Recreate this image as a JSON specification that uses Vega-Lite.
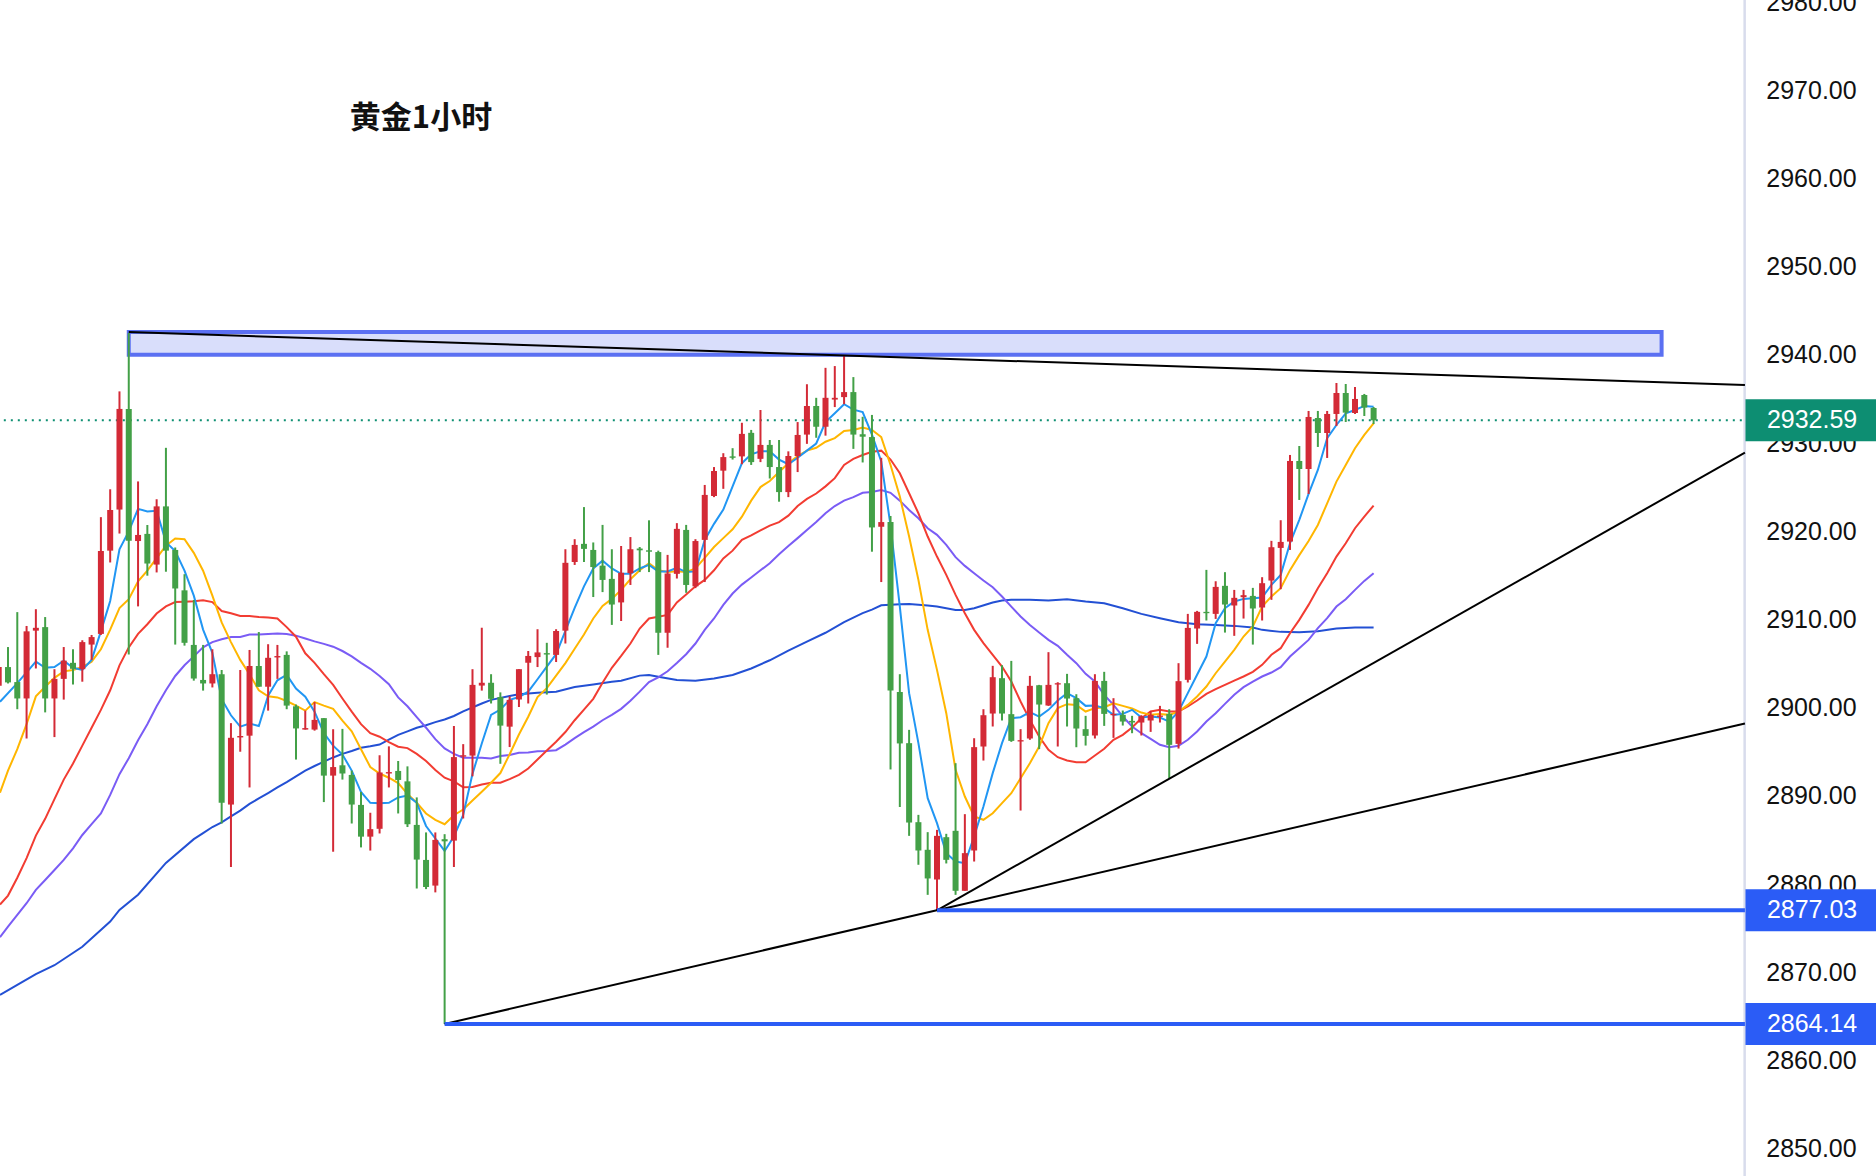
{
  "$schema": "https://vega.github.io/schema/vega-lite/v6.json",
  "description": "gold 1 hour candlesticks with five moving averages, trend lines and a resistance box",
  "width": 1876,
  "height": 1176,
  "padding": 0,
  "autosize": "none",
  "background": "#ffffff",
  "config": {"view": {"stroke": null}},
  "datasets": {
    "candles": [
      {"i":-1,"o":2902.5,"h":2905.5,"l":2900.5,"c":2904.61},
      {"i":0,"o":2904.61,"h":2906.88,"l":2902.75,"c":2902.87},
      {"i":1,"o":2902.91,"h":2910.84,"l":2899.83,"c":2901.05},
      {"i":2,"o":2901.05,"h":2909.27,"l":2896.51,"c":2908.66},
      {"i":3,"o":2908.74,"h":2911.17,"l":2904.45,"c":2909.06},
      {"i":4,"o":2909.14,"h":2910.28,"l":2899.47,"c":2901.05},
      {"i":5,"o":2901.05,"h":2904.37,"l":2896.67,"c":2903.27},
      {"i":6,"o":2903.27,"h":2906.88,"l":2900.92,"c":2905.34},
      {"i":7,"o":2905.09,"h":2906.63,"l":2902.63,"c":2904.41},
      {"i":8,"o":2904.37,"h":2907.65,"l":2902.95,"c":2907.44},
      {"i":9,"o":2907.16,"h":2908.25,"l":2905.42,"c":2908.01},
      {"i":10,"o":2908.37,"h":2921.61,"l":2908.25,"c":2917.77},
      {"i":11,"o":2917.81,"h":2924.77,"l":2916.47,"c":2922.42},
      {"i":12,"o":2922.47,"h":2935.87,"l":2919.75,"c":2933.88},
      {"i":13,"o":2933.88,"h":2942.5,"l":2906.03,"c":2918.94},
      {"i":14,"o":2918.9,"h":2925.66,"l":2911.49,"c":2919.59},
      {"i":15,"o":2919.71,"h":2920.72,"l":2914.97,"c":2916.35},
      {"i":16,"o":2916.23,"h":2923.64,"l":2915.34,"c":2922.83},
      {"i":17,"o":2922.83,"h":2929.47,"l":2915.42,"c":2917.81},
      {"i":18,"o":2917.89,"h":2918.17,"l":2907.16,"c":2913.52},
      {"i":19,"o":2913.31,"h":2915.14,"l":2907.04,"c":2907.36},
      {"i":20,"o":2907.12,"h":2912.22,"l":2903.07,"c":2903.31},
      {"i":21,"o":2903.15,"h":2907.12,"l":2901.94,"c":2902.75},
      {"i":22,"o":2902.75,"h":2906.63,"l":2902.3,"c":2903.8},
      {"i":23,"o":2903.8,"h":2904.28,"l":2886.87,"c":2889.22},
      {"i":24,"o":2889.02,"h":2898.25,"l":2881.94,"c":2896.59},
      {"i":25,"o":2896.63,"h":2904.28,"l":2895.01,"c":2896.79},
      {"i":26,"o":2896.83,"h":2906.55,"l":2890.96,"c":2904.73},
      {"i":27,"o":2904.73,"h":2908.58,"l":2902.38,"c":2902.38},
      {"i":28,"o":2902.38,"h":2907.2,"l":2899.67,"c":2905.66},
      {"i":29,"o":2905.7,"h":2907.12,"l":2903.27,"c":2905.86},
      {"i":30,"o":2905.99,"h":2906.39,"l":2899.83,"c":2900.24},
      {"i":31,"o":2900.16,"h":2900.36,"l":2894.12,"c":2897.65},
      {"i":32,"o":2897.52,"h":2899.67,"l":2897.52,"c":2897.69},
      {"i":33,"o":2897.52,"h":2900.64,"l":2897.4,"c":2898.62},
      {"i":34,"o":2898.82,"h":2898.82,"l":2889.3,"c":2892.3},
      {"i":35,"o":2892.3,"h":2897.56,"l":2883.67,"c":2893.27},
      {"i":36,"o":2893.47,"h":2897.6,"l":2891.85,"c":2892.54},
      {"i":37,"o":2892.38,"h":2892.87,"l":2886.87,"c":2889.02},
      {"i":38,"o":2888.98,"h":2890.44,"l":2884.16,"c":2885.38},
      {"i":39,"o":2885.38,"h":2888.09,"l":2883.8,"c":2886.23},
      {"i":40,"o":2886.27,"h":2894.61,"l":2885.74,"c":2892.66},
      {"i":41,"o":2892.54,"h":2895.62,"l":2890.96,"c":2892.7},
      {"i":42,"o":2892.83,"h":2893.96,"l":2888.01,"c":2891.81},
      {"i":43,"o":2891.65,"h":2893.35,"l":2886.47,"c":2886.79},
      {"i":44,"o":2886.71,"h":2889.83,"l":2879.5,"c":2882.78},
      {"i":45,"o":2882.74,"h":2885.86,"l":2879.43,"c":2879.67},
      {"i":46,"o":2879.83,"h":2885.86,"l":2879.06,"c":2885.01},
      {"i":47,"o":2885.09,"h":2885.66,"l":2864.14,"c":2884.85},
      {"i":48,"o":2884.93,"h":2897.93,"l":2881.94,"c":2894.4},
      {"i":49,"o":2894.45,"h":2895.87,"l":2887.44,"c":2894.61},
      {"i":50,"o":2894.57,"h":2904.37,"l":2892.22,"c":2902.59},
      {"i":51,"o":2902.51,"h":2909.07,"l":2901.94,"c":2902.83},
      {"i":52,"o":2902.83,"h":2903.8,"l":2900.48,"c":2901.01},
      {"i":53,"o":2901.21,"h":2901.74,"l":2893.64,"c":2897.97},
      {"i":54,"o":2897.85,"h":2901.29,"l":2895.54,"c":2900.89},
      {"i":55,"o":2900.93,"h":2904.37,"l":2900.08,"c":2904.37},
      {"i":56,"o":2905.1,"h":2906.43,"l":2900.48,"c":2905.87},
      {"i":57,"o":2905.74,"h":2908.9,"l":2904.61,"c":2906.27},
      {"i":58,"o":2906.19,"h":2907.36,"l":2901.49,"c":2906.03},
      {"i":59,"o":2905.99,"h":2908.9,"l":2905.18,"c":2908.7},
      {"i":60,"o":2908.74,"h":2917.97,"l":2907.28,"c":2916.43},
      {"i":61,"o":2916.52,"h":2919.11,"l":2916.19,"c":2918.46},
      {"i":62,"o":2918.58,"h":2922.75,"l":2916.52,"c":2918.01},
      {"i":63,"o":2917.89,"h":2918.74,"l":2912.55,"c":2915.95},
      {"i":64,"o":2916.11,"h":2920.73,"l":2913.11,"c":2914.49},
      {"i":65,"o":2914.61,"h":2917.97,"l":2909.39,"c":2911.7},
      {"i":66,"o":2911.94,"h":2918.34,"l":2909.83,"c":2915.3},
      {"i":67,"o":2915.26,"h":2919.35,"l":2913.92,"c":2917.97},
      {"i":68,"o":2918.05,"h":2918.22,"l":2915.38,"c":2917.85},
      {"i":69,"o":2917.85,"h":2921.25,"l":2915.38,"c":2917.69},
      {"i":70,"o":2917.65,"h":2917.81,"l":2905.99,"c":2908.5},
      {"i":71,"o":2908.5,"h":2917.33,"l":2906.8,"c":2915.22},
      {"i":72,"o":2915.18,"h":2920.93,"l":2914.65,"c":2920.28},
      {"i":73,"o":2920.16,"h":2920.73,"l":2913.03,"c":2913.92},
      {"i":74,"o":2913.76,"h":2919.11,"l":2913.56,"c":2918.9},
      {"i":75,"o":2919.03,"h":2925.26,"l":2914.25,"c":2924.13},
      {"i":76,"o":2924.01,"h":2927.29,"l":2923.88,"c":2926.84},
      {"i":77,"o":2926.88,"h":2928.86,"l":2924.82,"c":2928.42},
      {"i":78,"o":2928.5,"h":2929.43,"l":2928.14,"c":2928.34},
      {"i":79,"o":2928.5,"h":2932.31,"l":2927.61,"c":2931.05},
      {"i":80,"o":2931.17,"h":2931.5,"l":2927.53,"c":2927.85},
      {"i":81,"o":2928.22,"h":2933.76,"l":2927.85,"c":2929.8},
      {"i":82,"o":2929.8,"h":2930.36,"l":2925.99,"c":2927.29},
      {"i":83,"o":2927.29,"h":2930.36,"l":2923.36,"c":2924.45},
      {"i":84,"o":2924.45,"h":2929.07,"l":2923.88,"c":2928.54},
      {"i":85,"o":2928.54,"h":2932.39,"l":2926.72,"c":2930.93},
      {"i":86,"o":2930.97,"h":2936.68,"l":2929.92,"c":2934.21},
      {"i":87,"o":2934.21,"h":2935.14,"l":2930.61,"c":2931.86},
      {"i":88,"o":2931.86,"h":2938.54,"l":2930.85,"c":2935.14},
      {"i":89,"o":2934.94,"h":2938.74,"l":2934.09,"c":2935.14},
      {"i":90,"o":2935.22,"h":2940,"l":2934.41,"c":2935.79},
      {"i":91,"o":2935.79,"h":2937.49,"l":2929.35,"c":2930.97},
      {"i":92,"o":2931.01,"h":2932.99,"l":2927.81,"c":2930.73},
      {"i":93,"o":2930.69,"h":2933.2,"l":2917.69,"c":2920.44},
      {"i":94,"o":2920.52,"h":2928.34,"l":2914.25,"c":2921.05},
      {"i":95,"o":2921.05,"h":2921.74,"l":2893,"c":2901.94},
      {"i":96,"o":2901.78,"h":2903.8,"l":2888.74,"c":2895.95},
      {"i":97,"o":2895.98,"h":2897.49,"l":2885.47,"c":2886.98},
      {"i":98,"o":2887.02,"h":2887.85,"l":2882.19,"c":2883.81},
      {"i":99,"o":2883.89,"h":2885.89,"l":2878.78,"c":2880.64},
      {"i":100,"o":2880.52,"h":2886.15,"l":2877.03,"c":2885.47},
      {"i":101,"o":2885.32,"h":2885.7,"l":2882.34,"c":2882.75},
      {"i":102,"o":2886.04,"h":2893.71,"l":2878.78,"c":2879.24},
      {"i":103,"o":2879.24,"h":2887.93,"l":2879.24,"c":2883.51},
      {"i":104,"o":2883.81,"h":2896.54,"l":2882.56,"c":2895.53},
      {"i":105,"o":2895.6,"h":2899.83,"l":2894.01,"c":2899.15},
      {"i":106,"o":2899.34,"h":2904.75,"l":2897.87,"c":2903.46},
      {"i":107,"o":2903.35,"h":2904.82,"l":2898.55,"c":2899.34},
      {"i":108,"o":2899.27,"h":2905.31,"l":2896.13,"c":2896.24},
      {"i":109,"o":2896.17,"h":2897.57,"l":2888.34,"c":2896.32},
      {"i":110,"o":2896.51,"h":2903.61,"l":2896.36,"c":2902.48},
      {"i":111,"o":2902.55,"h":2902.59,"l":2895.3,"c":2900.36},
      {"i":112,"o":2900.25,"h":2906.3,"l":2900.21,"c":2902.59},
      {"i":113,"o":2902.63,"h":2902.89,"l":2895.6,"c":2902.78},
      {"i":114,"o":2902.78,"h":2903.84,"l":2897.87,"c":2901.04},
      {"i":115,"o":2901.08,"h":2901.53,"l":2895.52,"c":2897.64},
      {"i":116,"o":2897.57,"h":2899.08,"l":2895.71,"c":2896.81},
      {"i":117,"o":2896.85,"h":2903.8,"l":2896.51,"c":2903.04},
      {"i":118,"o":2903.04,"h":2904.07,"l":2897.94,"c":2899.3},
      {"i":119,"o":2899.15,"h":2901.08,"l":2896.58,"c":2899.3},
      {"i":120,"o":2899.19,"h":2899.68,"l":2897.98,"c":2898.43},
      {"i":121,"o":2898.51,"h":2899.08,"l":2897.11,"c":2898.32},
      {"i":122,"o":2898.32,"h":2899.15,"l":2896.85,"c":2899.04},
      {"i":123,"o":2898.55,"h":2899.64,"l":2897.26,"c":2899.19},
      {"i":124,"o":2898.96,"h":2900.21,"l":2898.32,"c":2899.11},
      {"i":125,"o":2899.3,"h":2899.83,"l":2891.94,"c":2895.79},
      {"i":126,"o":2895.9,"h":2905.05,"l":2895.37,"c":2903.01},
      {"i":127,"o":2903.16,"h":2910.64,"l":2902.86,"c":2909.05},
      {"i":128,"o":2908.98,"h":2910.98,"l":2907.24,"c":2910.87},
      {"i":129,"o":2910.87,"h":2915.63,"l":2909.89,"c":2910.72},
      {"i":130,"o":2910.64,"h":2914.34,"l":2910.07,"c":2913.7},
      {"i":131,"o":2913.82,"h":2915.37,"l":2908.52,"c":2911.7},
      {"i":132,"o":2911.59,"h":2913.36,"l":2908.15,"c":2912.46},
      {"i":133,"o":2912.53,"h":2913.36,"l":2910.11,"c":2912.76},
      {"i":134,"o":2912.68,"h":2913.59,"l":2907.16,"c":2911.25},
      {"i":135,"o":2911.36,"h":2914.8,"l":2909.89,"c":2914.12},
      {"i":136,"o":2914.42,"h":2918.92,"l":2912.23,"c":2918.2},
      {"i":137,"o":2918.12,"h":2921.26,"l":2913.44,"c":2918.8},
      {"i":138,"o":2918.84,"h":2928.66,"l":2917.89,"c":2927.98},
      {"i":139,"o":2927.98,"h":2929.68,"l":2923.56,"c":2927.07},
      {"i":140,"o":2927.07,"h":2933.65,"l":2924.24,"c":2932.97},
      {"i":141,"o":2932.85,"h":2933.65,"l":2929.57,"c":2931.15},
      {"i":142,"o":2931.15,"h":2933.65,"l":2928.32,"c":2933.31},
      {"i":143,"o":2933.31,"h":2936.82,"l":2931.95,"c":2935.69},
      {"i":144,"o":2935.69,"h":2936.71,"l":2932.4,"c":2933.46},
      {"i":145,"o":2933.42,"h":2936.37,"l":2933.31,"c":2935.01},
      {"i":146,"o":2935.46,"h":2935.58,"l":2933.08,"c":2934.03},
      {"i":147,"o":2933.99,"h":2934.1,"l":2932.17,"c":2932.59}
    ],
    "averages": [
      {"s":"slow","i":-0.86,"v":2867.43},{"s":"slow","i":1,"v":2868.57},{"s":"slow","i":3,"v":2869.8},{"s":"slow","i":5,"v":2870.8},{"s":"slow","i":8,"v":2872.9},{"s":"slow","i":11,"v":2875.75},{"s":"slow","i":12,"v":2877.07},{"s":"slow","i":14,"v":2878.8},{"s":"slow","i":17,"v":2882.4},{"s":"slow","i":20,"v":2885.1},{"s":"slow","i":21,"v":2885.78},{"s":"slow","i":22,"v":2886.47},{"s":"slow","i":23,"v":2887},{"s":"slow","i":24,"v":2887.68},{"s":"slow","i":25,"v":2888.33},{"s":"slow","i":26,"v":2889.1},{"s":"slow","i":27,"v":2889.71},{"s":"slow","i":28,"v":2890.32},{"s":"slow","i":29,"v":2890.96},{"s":"slow","i":30,"v":2891.57},{"s":"slow","i":31,"v":2892.22},{"s":"slow","i":32,"v":2892.87},{"s":"slow","i":33,"v":2893.39},{"s":"slow","i":34,"v":2893.88},{"s":"slow","i":35,"v":2894.36},{"s":"slow","i":36,"v":2894.77},{"s":"slow","i":37,"v":2895.09},{"s":"slow","i":38,"v":2895.46},{"s":"slow","i":39,"v":2895.62},{"s":"slow","i":40,"v":2895.82},{"s":"slow","i":41,"v":2896.39},{"s":"slow","i":42,"v":2896.92},{"s":"slow","i":43,"v":2897.32},{"s":"slow","i":44,"v":2897.73},{"s":"slow","i":45,"v":2898.01},{"s":"slow","i":46,"v":2898.37},{"s":"slow","i":47,"v":2898.66},{"s":"slow","i":48,"v":2899.06},{"s":"slow","i":49,"v":2899.59},{"s":"slow","i":51,"v":2900.48},{"s":"slow","i":52,"v":2900.89},{"s":"slow","i":54,"v":2901.33},{"s":"slow","i":55,"v":2901.53},{"s":"slow","i":57,"v":2901.7},{"s":"slow","i":59,"v":2901.82},{"s":"slow","i":61,"v":2902.34},{"s":"slow","i":63,"v":2902.63},{"s":"slow","i":65,"v":2902.95},{"s":"slow","i":66,"v":2903.07},{"s":"slow","i":68,"v":2903.64},{"s":"slow","i":69,"v":2903.72},{"s":"slow","i":70,"v":2903.52},{"s":"slow","i":72,"v":2903.15},{"s":"slow","i":74,"v":2903.07},{"s":"slow","i":76,"v":2903.32},{"s":"slow","i":78,"v":2903.72},{"s":"slow","i":80,"v":2904.45},{"s":"slow","i":82,"v":2905.38},{"s":"slow","i":84,"v":2906.47},{"s":"slow","i":86,"v":2907.49},{"s":"slow","i":88,"v":2908.5},{"s":"slow","i":90,"v":2909.71},{"s":"slow","i":92,"v":2910.72},{"s":"slow","i":93,"v":2911.13},{"s":"slow","i":94,"v":2911.62},{"s":"slow","i":96,"v":2911.74},{"s":"slow","i":97,"v":2911.77},{"s":"slow","i":99,"v":2911.59},{"s":"slow","i":100,"v":2911.47},{"s":"slow","i":102,"v":2911.09},{"s":"slow","i":103,"v":2911.09},{"s":"slow","i":104,"v":2911.28},{"s":"slow","i":106,"v":2911.93},{"s":"slow","i":107,"v":2912.15},{"s":"slow","i":108,"v":2912.23},{"s":"slow","i":110,"v":2912.23},{"s":"slow","i":112,"v":2912.15},{"s":"slow","i":114,"v":2912.3},{"s":"slow","i":116,"v":2912.04},{"s":"slow","i":118,"v":2911.85},{"s":"slow","i":120,"v":2911.28},{"s":"slow","i":122,"v":2910.64},{"s":"slow","i":124,"v":2910.15},{"s":"slow","i":126,"v":2909.7},{"s":"slow","i":128,"v":2909.47},{"s":"slow","i":130,"v":2909.39},{"s":"slow","i":132,"v":2909.28},{"s":"slow","i":134,"v":2909.09},{"s":"slow","i":135,"v":2908.83},{"s":"slow","i":137,"v":2908.6},{"s":"slow","i":139,"v":2908.56},{"s":"slow","i":141,"v":2908.68},{"s":"slow","i":143,"v":2908.98},{"s":"slow","i":144,"v":2909.05},{"s":"slow","i":145,"v":2909.09},{"s":"slow","i":147,"v":2909.09},
      {"s":"long","i":-0.86,"v":2873.97},{"s":"long","i":0,"v":2875.18},{"s":"long","i":1,"v":2876.5},{"s":"long","i":2,"v":2877.83},{"s":"long","i":3,"v":2879.34},{"s":"long","i":4,"v":2880.47},{"s":"long","i":5,"v":2881.6},{"s":"long","i":6,"v":2882.74},{"s":"long","i":7,"v":2884.06},{"s":"long","i":8,"v":2885.57},{"s":"long","i":9,"v":2886.79},{"s":"long","i":10,"v":2888.01},{"s":"long","i":11,"v":2890.11},{"s":"long","i":12,"v":2892.46},{"s":"long","i":13,"v":2894.28},{"s":"long","i":14,"v":2896.31},{"s":"long","i":15,"v":2898.13},{"s":"long","i":16,"v":2900.16},{"s":"long","i":17,"v":2901.98},{"s":"long","i":18,"v":2903.6},{"s":"long","i":19,"v":2904.81},{"s":"long","i":20,"v":2905.82},{"s":"long","i":21,"v":2906.84},{"s":"long","i":22,"v":2907.44},{"s":"long","i":23,"v":2907.77},{"s":"long","i":24,"v":2908.01},{"s":"long","i":25,"v":2908.01},{"s":"long","i":26,"v":2908.29},{"s":"long","i":27,"v":2908.29},{"s":"long","i":28,"v":2908.37},{"s":"long","i":29,"v":2908.41},{"s":"long","i":30,"v":2908.37},{"s":"long","i":31,"v":2908.17},{"s":"long","i":32,"v":2907.85},{"s":"long","i":33,"v":2907.52},{"s":"long","i":34,"v":2907.24},{"s":"long","i":35,"v":2906.92},{"s":"long","i":36,"v":2906.43},{"s":"long","i":37,"v":2905.82},{"s":"long","i":38,"v":2905.09},{"s":"long","i":39,"v":2904.41},{"s":"long","i":40,"v":2903.6},{"s":"long","i":41,"v":2902.67},{"s":"long","i":42,"v":2901.17},{"s":"long","i":43,"v":2900.16},{"s":"long","i":44,"v":2898.94},{"s":"long","i":45,"v":2897.73},{"s":"long","i":46,"v":2896.43},{"s":"long","i":47,"v":2895.38},{"s":"long","i":48,"v":2894.77},{"s":"long","i":49,"v":2894.33},{"s":"long","i":50,"v":2894.33},{"s":"long","i":51,"v":2894.33},{"s":"long","i":52,"v":2894.25},{"s":"long","i":53,"v":2894.53},{"s":"long","i":54,"v":2894.65},{"s":"long","i":55,"v":2894.89},{"s":"long","i":56,"v":2894.93},{"s":"long","i":57,"v":2895.05},{"s":"long","i":58,"v":2895.1},{"s":"long","i":59,"v":2895.18},{"s":"long","i":60,"v":2895.82},{"s":"long","i":61,"v":2896.55},{"s":"long","i":62,"v":2897.24},{"s":"long","i":63,"v":2897.85},{"s":"long","i":64,"v":2898.58},{"s":"long","i":65,"v":2899.19},{"s":"long","i":66,"v":2899.87},{"s":"long","i":67,"v":2900.8},{"s":"long","i":68,"v":2901.82},{"s":"long","i":69,"v":2902.91},{"s":"long","i":70,"v":2903.44},{"s":"long","i":71,"v":2904.13},{"s":"long","i":72,"v":2905.06},{"s":"long","i":73,"v":2906.07},{"s":"long","i":74,"v":2907.28},{"s":"long","i":75,"v":2908.82},{"s":"long","i":76,"v":2910.12},{"s":"long","i":77,"v":2911.66},{"s":"long","i":78,"v":2912.95},{"s":"long","i":79,"v":2913.96},{"s":"long","i":80,"v":2914.77},{"s":"long","i":81,"v":2915.58},{"s":"long","i":82,"v":2916.39},{"s":"long","i":83,"v":2917.41},{"s":"long","i":84,"v":2918.34},{"s":"long","i":85,"v":2919.23},{"s":"long","i":86,"v":2920.16},{"s":"long","i":87,"v":2921.05},{"s":"long","i":88,"v":2922.06},{"s":"long","i":89,"v":2922.87},{"s":"long","i":90,"v":2923.48},{"s":"long","i":91,"v":2923.88},{"s":"long","i":92,"v":2924.37},{"s":"long","i":93,"v":2924.45},{"s":"long","i":94,"v":2924.69},{"s":"long","i":95,"v":2924.37},{"s":"long","i":96,"v":2923.48},{"s":"long","i":97,"v":2922.43},{"s":"long","i":98,"v":2921.49},{"s":"long","i":99,"v":2920.35},{"s":"long","i":100,"v":2919.6},{"s":"long","i":101,"v":2918.46},{"s":"long","i":102,"v":2917.07},{"s":"long","i":103,"v":2916.08},{"s":"long","i":104,"v":2915.25},{"s":"long","i":105,"v":2914.42},{"s":"long","i":106,"v":2913.66},{"s":"long","i":107,"v":2912.61},{"s":"long","i":108,"v":2911.47},{"s":"long","i":109,"v":2910.34},{"s":"long","i":110,"v":2909.39},{"s":"long","i":111,"v":2908.52},{"s":"long","i":112,"v":2907.69},{"s":"long","i":113,"v":2907.01},{"s":"long","i":114,"v":2906},{"s":"long","i":115,"v":2905.05},{"s":"long","i":116,"v":2903.84},{"s":"long","i":117,"v":2902.97},{"s":"long","i":118,"v":2901.46},{"s":"long","i":119,"v":2900.32},{"s":"long","i":120,"v":2899},{"s":"long","i":121,"v":2897.87},{"s":"long","i":122,"v":2897.11},{"s":"long","i":123,"v":2896.47},{"s":"long","i":124,"v":2895.79},{"s":"long","i":125,"v":2895.53},{"s":"long","i":126,"v":2895.68},{"s":"long","i":127,"v":2896.36},{"s":"long","i":128,"v":2897.3},{"s":"long","i":129,"v":2898.43},{"s":"long","i":130,"v":2899.38},{"s":"long","i":131,"v":2900.44},{"s":"long","i":132,"v":2901.46},{"s":"long","i":133,"v":2902.33},{"s":"long","i":134,"v":2902.97},{"s":"long","i":135,"v":2903.54},{"s":"long","i":136,"v":2903.99},{"s":"long","i":137,"v":2904.59},{"s":"long","i":138,"v":2905.8},{"s":"long","i":139,"v":2906.75},{"s":"long","i":140,"v":2907.69},{"s":"long","i":141,"v":2909.02},{"s":"long","i":142,"v":2910.15},{"s":"long","i":143,"v":2911.47},{"s":"long","i":144,"v":2912.3},{"s":"long","i":145,"v":2913.36},{"s":"long","i":146,"v":2914.38},{"s":"long","i":147,"v":2915.25},
      {"s":"mid","i":-0.86,"v":2877.68},{"s":"mid","i":0,"v":2878.7},{"s":"mid","i":1,"v":2880.72},{"s":"mid","i":2,"v":2882.95},{"s":"mid","i":3,"v":2885.5},{"s":"mid","i":4,"v":2887.4},{"s":"mid","i":5,"v":2889.63},{"s":"mid","i":6,"v":2891.85},{"s":"mid","i":7,"v":2893.68},{"s":"mid","i":8,"v":2895.7},{"s":"mid","i":9,"v":2897.73},{"s":"mid","i":10,"v":2899.75},{"s":"mid","i":11,"v":2901.98},{"s":"mid","i":12,"v":2904.81},{"s":"mid","i":13,"v":2906.84},{"s":"mid","i":14,"v":2908.37},{"s":"mid","i":15,"v":2909.47},{"s":"mid","i":16,"v":2910.68},{"s":"mid","i":17,"v":2911.49},{"s":"mid","i":18,"v":2911.98},{"s":"mid","i":19,"v":2912.02},{"s":"mid","i":20,"v":2912.06},{"s":"mid","i":21,"v":2912.18},{"s":"mid","i":22,"v":2911.98},{"s":"mid","i":23,"v":2910.97},{"s":"mid","i":24,"v":2910.72},{"s":"mid","i":25,"v":2910.4},{"s":"mid","i":26,"v":2910.4},{"s":"mid","i":27,"v":2910.28},{"s":"mid","i":28,"v":2910.24},{"s":"mid","i":29,"v":2910.12},{"s":"mid","i":30,"v":2909.14},{"s":"mid","i":31,"v":2908.05},{"s":"mid","i":32,"v":2906.17},{"s":"mid","i":33,"v":2905.09},{"s":"mid","i":34,"v":2903.8},{"s":"mid","i":35,"v":2902.58},{"s":"mid","i":36,"v":2901.05},{"s":"mid","i":37,"v":2899.55},{"s":"mid","i":38,"v":2898.13},{"s":"mid","i":39,"v":2897.12},{"s":"mid","i":40,"v":2896.71},{"s":"mid","i":41,"v":2896.11},{"s":"mid","i":42,"v":2895.58},{"s":"mid","i":43,"v":2895.42},{"s":"mid","i":44,"v":2894.77},{"s":"mid","i":45,"v":2893.96},{"s":"mid","i":46,"v":2892.95},{"s":"mid","i":47,"v":2892.06},{"s":"mid","i":48,"v":2891.65},{"s":"mid","i":49,"v":2890.97},{"s":"mid","i":50,"v":2891.01},{"s":"mid","i":51,"v":2891.29},{"s":"mid","i":52,"v":2891.49},{"s":"mid","i":53,"v":2891.49},{"s":"mid","i":54,"v":2891.9},{"s":"mid","i":55,"v":2892.38},{"s":"mid","i":56,"v":2893.11},{"s":"mid","i":57,"v":2894.12},{"s":"mid","i":58,"v":2895.14},{"s":"mid","i":59,"v":2896.15},{"s":"mid","i":60,"v":2897.24},{"s":"mid","i":61,"v":2898.58},{"s":"mid","i":62,"v":2899.79},{"s":"mid","i":63,"v":2901.01},{"s":"mid","i":64,"v":2902.83},{"s":"mid","i":65,"v":2904.53},{"s":"mid","i":66,"v":2905.87},{"s":"mid","i":67,"v":2907.28},{"s":"mid","i":68,"v":2908.98},{"s":"mid","i":69,"v":2910.12},{"s":"mid","i":70,"v":2910.32},{"s":"mid","i":71,"v":2910.52},{"s":"mid","i":72,"v":2911.94},{"s":"mid","i":73,"v":2912.83},{"s":"mid","i":74,"v":2913.76},{"s":"mid","i":75,"v":2914.49},{"s":"mid","i":76,"v":2915.58},{"s":"mid","i":77,"v":2916.92},{"s":"mid","i":78,"v":2917.81},{"s":"mid","i":79,"v":2919.03},{"s":"mid","i":80,"v":2919.55},{"s":"mid","i":81,"v":2920.12},{"s":"mid","i":82,"v":2920.65},{"s":"mid","i":83,"v":2921.05},{"s":"mid","i":84,"v":2921.78},{"s":"mid","i":85,"v":2922.87},{"s":"mid","i":86,"v":2923.68},{"s":"mid","i":87,"v":2924.29},{"s":"mid","i":88,"v":2925.1},{"s":"mid","i":89,"v":2926.03},{"s":"mid","i":90,"v":2927.53},{"s":"mid","i":91,"v":2928.22},{"s":"mid","i":92,"v":2928.66},{"s":"mid","i":93,"v":2929.03},{"s":"mid","i":94,"v":2929.15},{"s":"mid","i":95,"v":2928.14},{"s":"mid","i":96,"v":2926.59},{"s":"mid","i":97,"v":2924.32},{"s":"mid","i":98,"v":2922.05},{"s":"mid","i":99,"v":2919.41},{"s":"mid","i":100,"v":2917.14},{"s":"mid","i":101,"v":2915.06},{"s":"mid","i":102,"v":2912.79},{"s":"mid","i":103,"v":2910.72},{"s":"mid","i":104,"v":2908.83},{"s":"mid","i":105,"v":2907.32},{"s":"mid","i":106,"v":2906},{"s":"mid","i":107,"v":2904.67},{"s":"mid","i":108,"v":2902.97},{"s":"mid","i":109,"v":2900.7},{"s":"mid","i":110,"v":2898.62},{"s":"mid","i":111,"v":2896.73},{"s":"mid","i":112,"v":2895.22},{"s":"mid","i":113,"v":2894.39},{"s":"mid","i":114,"v":2894.01},{"s":"mid","i":115,"v":2893.82},{"s":"mid","i":116,"v":2893.82},{"s":"mid","i":117,"v":2894.58},{"s":"mid","i":118,"v":2895.34},{"s":"mid","i":119,"v":2896.36},{"s":"mid","i":120,"v":2896.92},{"s":"mid","i":121,"v":2897.75},{"s":"mid","i":122,"v":2898.81},{"s":"mid","i":123,"v":2899.57},{"s":"mid","i":124,"v":2899.76},{"s":"mid","i":125,"v":2899.57},{"s":"mid","i":126,"v":2899.57},{"s":"mid","i":127,"v":2900.14},{"s":"mid","i":128,"v":2900.82},{"s":"mid","i":129,"v":2901.57},{"s":"mid","i":130,"v":2902.1},{"s":"mid","i":131,"v":2902.59},{"s":"mid","i":132,"v":2903.08},{"s":"mid","i":133,"v":2903.54},{"s":"mid","i":134,"v":2904.07},{"s":"mid","i":135,"v":2904.86},{"s":"mid","i":136,"v":2906},{"s":"mid","i":137,"v":2906.75},{"s":"mid","i":138,"v":2908.45},{"s":"mid","i":139,"v":2909.96},{"s":"mid","i":140,"v":2911.66},{"s":"mid","i":141,"v":2913.55},{"s":"mid","i":142,"v":2915.25},{"s":"mid","i":143,"v":2917.14},{"s":"mid","i":144,"v":2918.65},{"s":"mid","i":145,"v":2920.35},{"s":"mid","i":146,"v":2921.68},{"s":"mid","i":147,"v":2922.92},
      {"s":"short","i":-0.86,"v":2890.36},{"s":"short","i":0,"v":2892.87},{"s":"short","i":1,"v":2895.3},{"s":"short","i":2,"v":2898.13},{"s":"short","i":3,"v":2901.29},{"s":"short","i":4,"v":2902.38},{"s":"short","i":5,"v":2903.39},{"s":"short","i":6,"v":2904.12},{"s":"short","i":7,"v":2904.28},{"s":"short","i":8,"v":2904.61},{"s":"short","i":9,"v":2905.22},{"s":"short","i":10,"v":2906.63},{"s":"short","i":11,"v":2908.86},{"s":"short","i":12,"v":2911.29},{"s":"short","i":13,"v":2912.3},{"s":"short","i":14,"v":2914.33},{"s":"short","i":15,"v":2915.54},{"s":"short","i":16,"v":2916.96},{"s":"short","i":17,"v":2918.37},{"s":"short","i":18,"v":2919.18},{"s":"short","i":19,"v":2919.1},{"s":"short","i":20,"v":2917.56},{"s":"short","i":21,"v":2915.54},{"s":"short","i":22,"v":2912.71},{"s":"short","i":23,"v":2909.67},{"s":"short","i":24,"v":2907.44},{"s":"short","i":25,"v":2905.42},{"s":"short","i":26,"v":2903.8},{"s":"short","i":27,"v":2901.98},{"s":"short","i":28,"v":2901.29},{"s":"short","i":29,"v":2901.17},{"s":"short","i":30,"v":2900.76},{"s":"short","i":31,"v":2900.24},{"s":"short","i":32,"v":2899.67},{"s":"short","i":33,"v":2900.64},{"s":"short","i":34,"v":2900.24},{"s":"short","i":35,"v":2899.87},{"s":"short","i":36,"v":2898.53},{"s":"short","i":37,"v":2897.32},{"s":"short","i":38,"v":2895.3},{"s":"short","i":39,"v":2893.27},{"s":"short","i":40,"v":2892.54},{"s":"short","i":41,"v":2892.06},{"s":"short","i":42,"v":2891.45},{"s":"short","i":43,"v":2890.23},{"s":"short","i":44,"v":2889.22},{"s":"short","i":45,"v":2888.01},{"s":"short","i":46,"v":2887.28},{"s":"short","i":47,"v":2886.79},{"s":"short","i":48,"v":2887.81},{"s":"short","i":49,"v":2888.46},{"s":"short","i":50,"v":2889.47},{"s":"short","i":51,"v":2890.48},{"s":"short","i":52,"v":2891.49},{"s":"short","i":53,"v":2892.59},{"s":"short","i":54,"v":2894.73},{"s":"short","i":55,"v":2896.96},{"s":"short","i":56,"v":2898.98},{"s":"short","i":57,"v":2901.21},{"s":"short","i":58,"v":2902.22},{"s":"short","i":59,"v":2903.64},{"s":"short","i":60,"v":2905.06},{"s":"short","i":61,"v":2906.68},{"s":"short","i":62,"v":2908.3},{"s":"short","i":63,"v":2910.12},{"s":"short","i":64,"v":2911.54},{"s":"short","i":65,"v":2912.34},{"s":"short","i":66,"v":2913.36},{"s":"short","i":67,"v":2914.57},{"s":"short","i":68,"v":2915.58},{"s":"short","i":69,"v":2916.39},{"s":"short","i":70,"v":2915.58},{"s":"short","i":71,"v":2915.38},{"s":"short","i":72,"v":2915.46},{"s":"short","i":73,"v":2915.38},{"s":"short","i":74,"v":2915.79},{"s":"short","i":75,"v":2917},{"s":"short","i":76,"v":2918.22},{"s":"short","i":77,"v":2919.23},{"s":"short","i":78,"v":2920.24},{"s":"short","i":79,"v":2921.66},{"s":"short","i":80,"v":2923.48},{"s":"short","i":81,"v":2925.02},{"s":"short","i":82,"v":2925.71},{"s":"short","i":83,"v":2926.72},{"s":"short","i":84,"v":2927.73},{"s":"short","i":85,"v":2928.54},{"s":"short","i":86,"v":2929.15},{"s":"short","i":87,"v":2929.47},{"s":"short","i":88,"v":2930.16},{"s":"short","i":89,"v":2930.57},{"s":"short","i":90,"v":2931.38},{"s":"short","i":91,"v":2931.5},{"s":"short","i":92,"v":2931.78},{"s":"short","i":93,"v":2931.5},{"s":"short","i":94,"v":2930.69},{"s":"short","i":95,"v":2927.53},{"s":"short","i":96,"v":2923.94},{"s":"short","i":97,"v":2919.41},{"s":"short","i":98,"v":2914.5},{"s":"short","i":99,"v":2908.83},{"s":"short","i":100,"v":2904.29},{"s":"short","i":101,"v":2899.38},{"s":"short","i":102,"v":2892.96},{"s":"short","i":103,"v":2889.93},{"s":"short","i":104,"v":2887.66},{"s":"short","i":105,"v":2887.29},{"s":"short","i":106,"v":2888.04},{"s":"short","i":107,"v":2889.18},{"s":"short","i":108,"v":2890.31},{"s":"short","i":109,"v":2892.01},{"s":"short","i":110,"v":2893.71},{"s":"short","i":111,"v":2895.6},{"s":"short","i":112,"v":2898.25},{"s":"short","i":113,"v":2899.95},{"s":"short","i":114,"v":2900.4},{"s":"short","i":115,"v":2900.32},{"s":"short","i":116,"v":2899.57},{"s":"short","i":117,"v":2899.95},{"s":"short","i":118,"v":2900.06},{"s":"short","i":119,"v":2900.51},{"s":"short","i":120,"v":2900.21},{"s":"short","i":121,"v":2899.91},{"s":"short","i":122,"v":2899.45},{"s":"short","i":123,"v":2899.19},{"s":"short","i":124,"v":2899.3},{"s":"short","i":125,"v":2899.19},{"s":"short","i":126,"v":2899.57},{"s":"short","i":127,"v":2900.32},{"s":"short","i":128,"v":2901.27},{"s":"short","i":129,"v":2902.4},{"s":"short","i":130,"v":2903.91},{"s":"short","i":131,"v":2905.24},{"s":"short","i":132,"v":2906.56},{"s":"short","i":133,"v":2908.07},{"s":"short","i":134,"v":2909.21},{"s":"short","i":135,"v":2911.47},{"s":"short","i":136,"v":2912.61},{"s":"short","i":137,"v":2913.55},{"s":"short","i":138,"v":2915.6},{"s":"short","i":139,"v":2917.3},{"s":"short","i":140,"v":2918.9},{"s":"short","i":141,"v":2920.72},{"s":"short","i":142,"v":2923.18},{"s":"short","i":143,"v":2925.64},{"s":"short","i":144,"v":2927.53},{"s":"short","i":145,"v":2929.42},{"s":"short","i":146,"v":2930.93},{"s":"short","i":147,"v":2932.25},
      {"s":"fast","i":-0.86,"v":2900.68},{"s":"fast","i":1,"v":2902.79},{"s":"fast","i":3,"v":2905.22},{"s":"fast","i":4,"v":2904.53},{"s":"fast","i":5,"v":2904.61},{"s":"fast","i":6,"v":2905.34},{"s":"fast","i":7,"v":2904.53},{"s":"fast","i":8,"v":2904.28},{"s":"fast","i":9,"v":2905.42},{"s":"fast","i":10,"v":2908.66},{"s":"fast","i":11,"v":2912.1},{"s":"fast","i":12,"v":2917.97},{"s":"fast","i":13,"v":2920},{"s":"fast","i":14,"v":2922.55},{"s":"fast","i":15,"v":2922.26},{"s":"fast","i":16,"v":2922.34},{"s":"fast","i":17,"v":2918.78},{"s":"fast","i":18,"v":2917.77},{"s":"fast","i":19,"v":2915.54},{"s":"fast","i":20,"v":2912.71},{"s":"fast","i":21,"v":2908.86},{"s":"fast","i":22,"v":2906.23},{"s":"fast","i":23,"v":2900.97},{"s":"fast","i":24,"v":2899.14},{"s":"fast","i":25,"v":2897.85},{"s":"fast","i":26,"v":2898.21},{"s":"fast","i":27,"v":2897.93},{"s":"fast","i":28,"v":2901.37},{"s":"fast","i":29,"v":2903.11},{"s":"fast","i":30,"v":2903.72},{"s":"fast","i":31,"v":2902.18},{"s":"fast","i":32,"v":2901.25},{"s":"fast","i":33,"v":2899.55},{"s":"fast","i":34,"v":2897.12},{"s":"fast","i":35,"v":2895.7},{"s":"fast","i":36,"v":2894.69},{"s":"fast","i":37,"v":2892.87},{"s":"fast","i":38,"v":2890.44},{"s":"fast","i":39,"v":2889.22},{"s":"fast","i":40,"v":2889.18},{"s":"fast","i":41,"v":2889.22},{"s":"fast","i":42,"v":2889.83},{"s":"fast","i":43,"v":2890.03},{"s":"fast","i":44,"v":2889.22},{"s":"fast","i":45,"v":2886.59},{"s":"fast","i":46,"v":2885.17},{"s":"fast","i":47,"v":2883.76},{"s":"fast","i":48,"v":2885.38},{"s":"fast","i":49,"v":2887.85},{"s":"fast","i":50,"v":2892.5},{"s":"fast","i":51,"v":2895.95},{"s":"fast","i":52,"v":2899.19},{"s":"fast","i":53,"v":2899.79},{"s":"fast","i":54,"v":2900.89},{"s":"fast","i":55,"v":2901.21},{"s":"fast","i":56,"v":2901.82},{"s":"fast","i":57,"v":2903.23},{"s":"fast","i":58,"v":2904.65},{"s":"fast","i":59,"v":2906.07},{"s":"fast","i":60,"v":2908.7},{"s":"fast","i":61,"v":2911.33},{"s":"fast","i":62,"v":2913.76},{"s":"fast","i":63,"v":2915.79},{"s":"fast","i":64,"v":2916.68},{"s":"fast","i":65,"v":2915.79},{"s":"fast","i":66,"v":2915.18},{"s":"fast","i":67,"v":2915.18},{"s":"fast","i":68,"v":2915.79},{"s":"fast","i":69,"v":2916.19},{"s":"fast","i":70,"v":2915.46},{"s":"fast","i":71,"v":2915.46},{"s":"fast","i":72,"v":2915.87},{"s":"fast","i":73,"v":2915.38},{"s":"fast","i":74,"v":2915.46},{"s":"fast","i":75,"v":2919.03},{"s":"fast","i":76,"v":2920.85},{"s":"fast","i":77,"v":2922.47},{"s":"fast","i":78,"v":2925.1},{"s":"fast","i":79,"v":2927.73},{"s":"fast","i":80,"v":2928.74},{"s":"fast","i":81,"v":2929.07},{"s":"fast","i":82,"v":2929.07},{"s":"fast","i":83,"v":2928.14},{"s":"fast","i":84,"v":2927.61},{"s":"fast","i":85,"v":2928.34},{"s":"fast","i":86,"v":2929.15},{"s":"fast","i":87,"v":2929.96},{"s":"fast","i":88,"v":2932.39},{"s":"fast","i":89,"v":2933.4},{"s":"fast","i":90,"v":2934.41},{"s":"fast","i":91,"v":2933.8},{"s":"fast","i":92,"v":2933.52},{"s":"fast","i":93,"v":2930.97},{"s":"fast","i":94,"v":2927.93},{"s":"fast","i":95,"v":2920.65},{"s":"fast","i":96,"v":2911.47},{"s":"fast","i":97,"v":2901.65},{"s":"fast","i":98,"v":2895.98},{"s":"fast","i":99,"v":2889.74},{"s":"fast","i":100,"v":2886.91},{"s":"fast","i":101,"v":2883.51},{"s":"fast","i":102,"v":2882.56},{"s":"fast","i":103,"v":2882.37},{"s":"fast","i":104,"v":2885.4},{"s":"fast","i":105,"v":2888.8},{"s":"fast","i":106,"v":2892.58},{"s":"fast","i":107,"v":2895.98},{"s":"fast","i":108,"v":2898.81},{"s":"fast","i":109,"v":2898.93},{"s":"fast","i":110,"v":2899.49},{"s":"fast","i":111,"v":2899},{"s":"fast","i":112,"v":2899.76},{"s":"fast","i":113,"v":2900.82},{"s":"fast","i":114,"v":2901.65},{"s":"fast","i":115,"v":2901.08},{"s":"fast","i":116,"v":2900.21},{"s":"fast","i":117,"v":2900.25},{"s":"fast","i":118,"v":2899.95},{"s":"fast","i":119,"v":2899.19},{"s":"fast","i":120,"v":2899.3},{"s":"fast","i":121,"v":2899.76},{"s":"fast","i":122,"v":2898.89},{"s":"fast","i":123,"v":2899},{"s":"fast","i":124,"v":2898.89},{"s":"fast","i":125,"v":2898.43},{"s":"fast","i":126,"v":2899.57},{"s":"fast","i":127,"v":2901.65},{"s":"fast","i":128,"v":2903.73},{"s":"fast","i":129,"v":2905.8},{"s":"fast","i":130,"v":2909.58},{"s":"fast","i":131,"v":2911.28},{"s":"fast","i":132,"v":2912.04},{"s":"fast","i":133,"v":2912.34},{"s":"fast","i":134,"v":2912.42},{"s":"fast","i":135,"v":2912.49},{"s":"fast","i":136,"v":2913.93},{"s":"fast","i":137,"v":2915.06},{"s":"fast","i":138,"v":2918.65},{"s":"fast","i":139,"v":2921.3},{"s":"fast","i":140,"v":2924.24},{"s":"fast","i":141,"v":2926.96},{"s":"fast","i":142,"v":2930.55},{"s":"fast","i":143,"v":2932.06},{"s":"fast","i":144,"v":2933.38},{"s":"fast","i":145,"v":2933.76},{"s":"fast","i":146,"v":2934.22},{"s":"fast","i":147,"v":2934.14}
    ],
    "trends": [
      {"line":"top","i":13,"p":2942.6},{"line":"top","i":186.97,"p":2936.6},
      {"line":"floor","i":47,"p":2864.14},{"line":"floor","i":186.97,"p":2898.2},
      {"line":"rise","i":100,"p":2877.03},{"line":"rise","i":186.97,"p":2928.92}
    ],
    "levels": [
      {"i0":100,"i1":186.97,"p":2877.03},
      {"i0":47,"i1":186.97,"p":2864.14}
    ],
    "badges": [
      {"i0":187.03,"i1":201.08,"mid":194.2,"p":2932.59,"label":"2932.59","kind":"last"},
      {"i0":187.03,"i1":201.08,"mid":194.2,"p":2877.03,"label":"2877.03","kind":"level"},
      {"i0":187.03,"i1":201.08,"mid":194.2,"p":2864.14,"label":"2864.14","kind":"level"}
    ],
    "divider": [
      {"i":186.94,"p0":2846.9,"p1":2980.25}
    ]
  },
  "layer": [
    {
      "data": {"name": "divider"},
      "mark": {"type": "rule", "color": "#d8dcec", "strokeWidth": 2.5},
      "encoding": {
        "x": {"field": "i", "type": "quantitative", "scale": {"domain": [-0.861, 201.08]}, "axis": null},
        "y": {
          "field": "p0",
          "type": "quantitative",
          "scale": {"domain": [2846.9, 2980.25]},
          "axis": {
            "orient": "right",
            "values": [2850, 2860, 2870, 2880, 2890, 2900, 2910, 2920, 2930, 2940, 2950, 2960, 2970, 2980],
            "format": ".2f",
            "title": null,
            "grid": false,
            "ticks": false,
            "domain": false,
            "labelAlign": "center",
            "labelPadding": -65,
            "labelFont": "Liberation Sans",
            "labelFontSize": 25,
            "labelColor": "#111111",
            "labelOverlap": false,
            "labelBound": false,
            "labelFlush": false
          }
        },
        "y2": {"field": "p1"}
      }
    },
    {
      "data": {"values": [{"i0": 13, "i1": 178, "p0": 2940.03, "p1": 2942.6}]},
      "mark": {"type": "rect", "fill": "#d9defb", "stroke": "#5b70f2", "strokeWidth": 4},
      "encoding": {
        "x": {"field": "i0", "type": "quantitative", "scale": {"domain": [-0.861, 201.08]}, "axis": null},
        "x2": {"field": "i1"},
        "y": {"field": "p0", "type": "quantitative", "scale": {"domain": [2846.9, 2980.25]}},
        "y2": {"field": "p1"}
      }
    },
    {
      "data": {"values": [{"i0": -0.45, "i1": 186.97, "p": 2932.59}]},
      "mark": {"type": "rule", "color": "#0e8f72", "strokeWidth": 2, "strokeDash": [2, 5]},
      "encoding": {
        "x": {"field": "i0", "type": "quantitative", "scale": {"domain": [-0.861, 201.08]}, "axis": null},
        "x2": {"field": "i1"},
        "y": {"field": "p", "type": "quantitative", "scale": {"domain": [2846.9, 2980.25]}}
      }
    },
    {
      "data": {"name": "averages"},
      "mark": {"type": "line", "strokeWidth": 2},
      "encoding": {
        "x": {"field": "i", "type": "quantitative", "scale": {"domain": [-0.861, 201.08]}, "axis": null},
        "y": {"field": "v", "type": "quantitative", "scale": {"domain": [2846.9, 2980.25]}},
        "color": {
          "field": "s",
          "type": "nominal",
          "legend": null,
          "scale": {
            "domain": ["slow", "long", "mid", "short", "fast"],
            "range": ["#2350d4", "#7a5cf5", "#f23c32", "#ffb600", "#2196f3"]
          }
        },
        "order": {"field": "i", "type": "quantitative"}
      }
    },
    {
      "data": {"name": "candles"},
      "mark": {"type": "rule", "strokeWidth": 2},
      "encoding": {
        "x": {"field": "i", "type": "quantitative", "scale": {"domain": [-0.861, 201.08]}, "axis": null},
        "y": {"field": "l", "type": "quantitative", "scale": {"domain": [2846.9, 2980.25]}},
        "y2": {"field": "h"},
        "color": {"condition": {"test": "datum.c >= datum.o", "value": "#d32a36"}, "value": "#43a047"}
      }
    },
    {
      "data": {"name": "candles"},
      "mark": {"type": "rule", "strokeWidth": 6},
      "encoding": {
        "x": {"field": "i", "type": "quantitative", "scale": {"domain": [-0.861, 201.08]}, "axis": null},
        "y": {"field": "o", "type": "quantitative", "scale": {"domain": [2846.9, 2980.25]}},
        "y2": {"field": "c"},
        "color": {"condition": {"test": "datum.c >= datum.o", "value": "#d32a36"}, "value": "#43a047"}
      }
    },
    {
      "data": {"name": "trends"},
      "mark": {"type": "line", "color": "#000000", "strokeWidth": 2},
      "encoding": {
        "x": {"field": "i", "type": "quantitative", "scale": {"domain": [-0.861, 201.08]}, "axis": null},
        "y": {"field": "p", "type": "quantitative", "scale": {"domain": [2846.9, 2980.25]}},
        "detail": {"field": "line"}
      }
    },
    {
      "data": {"name": "levels"},
      "mark": {"type": "rule", "color": "#2b5cf6", "strokeWidth": 4},
      "encoding": {
        "x": {"field": "i0", "type": "quantitative", "scale": {"domain": [-0.861, 201.08]}, "axis": null},
        "x2": {"field": "i1"},
        "y": {"field": "p", "type": "quantitative", "scale": {"domain": [2846.9, 2980.25]}}
      }
    },
    {
      "data": {"name": "badges"},
      "mark": {"type": "rule", "strokeWidth": 42},
      "encoding": {
        "x": {"field": "i0", "type": "quantitative", "scale": {"domain": [-0.861, 201.08]}, "axis": null},
        "x2": {"field": "i1"},
        "y": {"field": "p", "type": "quantitative", "scale": {"domain": [2846.9, 2980.25]}},
        "color": {"condition": {"test": "datum.kind === 'last'", "value": "#0d8e72"}, "value": "#2b5cf6"}
      }
    },
    {
      "data": {"name": "badges"},
      "mark": {"type": "text", "font": "Liberation Sans", "fontSize": 25, "color": "#ffffff", "align": "center", "baseline": "middle"},
      "encoding": {
        "x": {"field": "mid", "type": "quantitative", "scale": {"domain": [-0.861, 201.08]}, "axis": null},
        "y": {"field": "p", "type": "quantitative", "scale": {"domain": [2846.9, 2980.25]}},
        "text": {"field": "label"}
      }
    },
    {
      "data": {"values": [{"i": 36.8, "p": 2966.74, "label": "黄金1小时"}]},
      "mark": {"type": "text", "font": "Noto Sans CJK SC", "fontSize": 31, "fontWeight": "bold", "color": "#111111", "align": "left", "baseline": "middle"},
      "encoding": {
        "x": {"field": "i", "type": "quantitative", "scale": {"domain": [-0.861, 201.08]}, "axis": null},
        "y": {"field": "p", "type": "quantitative", "scale": {"domain": [2846.9, 2980.25]}},
        "text": {"field": "label"}
      }
    }
  ]
}
